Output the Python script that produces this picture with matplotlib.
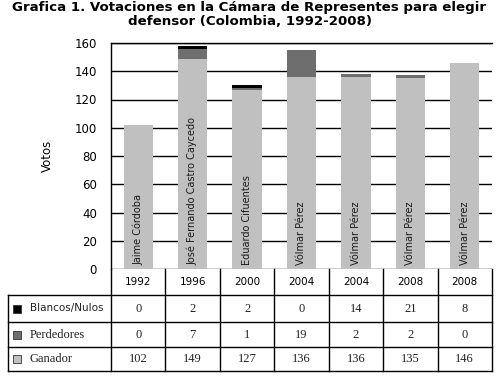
import matplotlib
matplotlib.use("Agg")
import matplotlib.pyplot as plt
from matplotlib.lines import Line2D
from matplotlib.patches import Rectangle

years = ["1992", "1996", "2000", "2004", "2004", "2008", "2008"]
names = ["Jaime Córdoba", "José Fernando Castro Caycedo", "Eduardo Cifuentes",
         "Vólmar Pérez", "Vólmar Pérez", "Vólmar Pérez", "Vólmar Pérez"]
ganador = [102, 149, 127, 136, 136, 135, 146]
perdedores = [0, 7, 1, 19, 2, 2, 0]
blancos_tabla = [0, 2, 2, 0, 14, 21, 8]
# blank/null votes as actually drawn in the bars of the reference
blancos_barra = [0, 2, 2, 0, 0, 0, 0]

c_gan = "#c0c0c0"
c_per = "#6e6e6e"
c_bla = "#000000"

W, H = 499, 386
fig = plt.figure(figsize=(W / 100, H / 100), dpi=100)

def fy(py):
    return 1 - py / H

def fx(px):
    return px / W

ax_l, ax_r, ax_t, ax_b = 111, 492, 43, 269
ax = fig.add_axes([fx(ax_l), fy(ax_b), fx(ax_r) - fx(ax_l), fy(ax_t) - fy(ax_b)])

x = list(range(len(years)))
bw = 0.54
ax.bar(x, ganador, width=bw, color=c_gan, zorder=3)
bot2 = [g for g in ganador]
ax.bar(x, perdedores, width=bw, bottom=bot2, color=c_per, zorder=3)
bot3 = [g + p for g, p in zip(ganador, perdedores)]
ax.bar(x, blancos_barra, width=bw, bottom=bot3, color=c_bla, zorder=3)

for xi, n in zip(x, names):
    ax.text(xi, 2.5, n, rotation=90, ha="center", va="bottom", fontsize=7,
            color="#1a1a1a", zorder=4)

ax.set_xlim(-0.5, len(years) - 0.5)
ax.set_ylim(0, 160)
ax.set_yticks(range(0, 161, 20))
ax.tick_params(axis="y", length=0, labelsize=8.5, pad=10)
ax.set_xticks([])
ax.grid(axis="y", color="black", linewidth=1, zorder=1)
for s in ["right", "bottom"]:
    ax.spines[s].set_visible(False)
ax.spines["left"].set_linewidth(1)
ax.spines["top"].set_linewidth(1)
ax.set_ylabel("Votos", fontsize=8.5, labelpad=15)

# Title
fig.text(0.5, fy(1), "Grafica 1. Votaciones en la Cámara de Representes para elegir\ndefensor (Colombia, 1992-2008)",
         ha="center", va="top", fontsize=9.6, fontweight="bold", linespacing=1.08)

# Table drawn in figure pixel coords
colw = (ax_r - ax_l) / len(years)
rows_y = [269, 295, 322, 347, 371]
tab_l = 8

def hline(y, x0, x1):
    fig.add_artist(Line2D([fx(x0), fx(x1)], [fy(y), fy(y)], color="black", lw=1))

def vline(xp, y0, y1):
    fig.add_artist(Line2D([fx(xp), fx(xp)], [fy(y0), fy(y1)], color="black", lw=1))

for k in range(1, 5):
    hline(rows_y[k], tab_l, ax_r)
vline(tab_l, rows_y[1], rows_y[4])
for i in range(len(years) + 1):
    vline(ax_l + i * colw, rows_y[0], rows_y[4])

for i, yr in enumerate(years):
    cx = ax_l + (i + 0.5) * colw
    fig.text(fx(cx), fy((rows_y[0] + rows_y[1]) / 2), yr, ha="center", va="center", fontsize=7.5)

row_data = [("Blancos/Nulos", blancos_tabla, c_bla, "DejaVu Sans", 7.5),
            ("Perdedores", perdedores, c_per, "Liberation Serif", 9),
            ("Ganador", ganador, c_gan, "Liberation Serif", 9)]
for r, (lab, vals, col, fam, fs) in enumerate(row_data):
    cy = (rows_y[r + 1] + rows_y[r + 2]) / 2
    fig.add_artist(Rectangle((fx(13), fy(cy + 4)), 8 / W, 8 / H, facecolor=col,
                             edgecolor="#333333", lw=0.6, transform=fig.transFigure))
    fig.text(fx(30), fy(cy), lab, ha="left", va="center", fontsize=fs,
             family=fam, color="#222222")
    for i, v in enumerate(vals):
        cx = ax_l + (i + 0.5) * colw
        fig.text(fx(cx), fy(cy), str(v), ha="center", va="center", fontsize=9,
                 family="Liberation Serif", color="#222222")

fig.savefig("out.png", dpi=100)
